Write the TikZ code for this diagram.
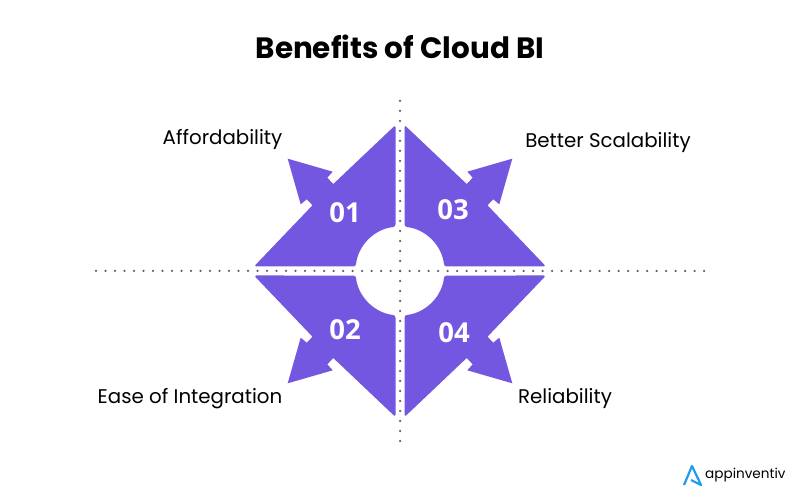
\documentclass[tikz,border=0pt]{standalone}
\usepackage{fontspec}
\setmainfont{Poppins}
\newfontfamily\numfont{Open Sans}
\definecolor{petal}{RGB}{115,87,224}
\definecolor{dotgrey}{RGB}{95,95,95}
\definecolor{logoblue}{RGB}{30,156,240}
\tikzset{
  petalfill/.style={fill=petal},
  dotline/.style={dotgrey, line width=2.5pt, line cap=round, dash pattern=on 0pt off 9.5pt},
  numlabel/.style={white, font=\numfont\bfseries\fontsize{27.5}{27.5}\selectfont},
  benefit/.style={black, font=\fontsize{19.8}{19.8}\selectfont},
}
\begin{document}
\begin{tikzpicture}[x=1pt,y=1pt]
    \useasboundingbox (0,0) rectangle (800,500);
    \fill[white] (0,0) rectangle (800,500);

    % dotted axes
    \coordinate (dotleft) at (96,229);
    \coordinate (dotright) at (705,229);
    \coordinate (dottop) at (400,399);
    \coordinate (dotbottom) at (400,57);
    \draw[dotline] (dotleft) -- (dotright);
    \draw[dotline, dash pattern=on 0pt off 10pt] (dottop) -- (dotbottom);

    % the four arrows
    \foreach \sx/\sy in {-1/1, -1/-1, 1/1, 1/-1} {
      \fill[petalfill, shift={(400,229)}, xscale=\sx, yscale=\sy, rounded corners=2.5pt]
        (-4.5,146) -- (-4.5,44.2) arc [start angle=95.8, end angle=174.2, radius=44.4]
        -- (-146,4.5)
        [sharp corners] -- (-87.5,65.7) -- (-93.3,71.7) -- (-99.3,66.7) -- (-112.3,112.3)
        -- (-67.3,99.3) -- (-72.7,93.3) -- (-66.7,87) [rounded corners=2.5pt] -- cycle;
    }

    \node[numlabel] (num1) at (345,287) {01};
    \node[numlabel] (num2) at (345,170) {02};
    \node[numlabel] (num3) at (453,290) {03};
    \node[numlabel] (num4) at (454,167) {04};

    \node[font=\bfseries\fontsize{29.4}{29.4}\selectfont] (title) at (400,453) {Benefits of Cloud BI};
    \node[benefit] (afford) at (222.5,361) {Affordability};
    \node[benefit] (scale) at (608,357) {Better Scalability};
    \node[benefit] (ease) at (190,101) {Ease of Integration};
    \node[benefit] (reliab) at (565,101) {Reliability};

    % logo
    \draw[logoblue, line width=2.2pt, line join=round] (684,15) -- (692,34) -- (701,15) -- (691,20);
    \node[font=\fontsize{13.6}{13.6}\selectfont, inner sep=0pt, anchor=west] (brand) at (705,25) {appinventiv};
\end{tikzpicture}
\end{document}
